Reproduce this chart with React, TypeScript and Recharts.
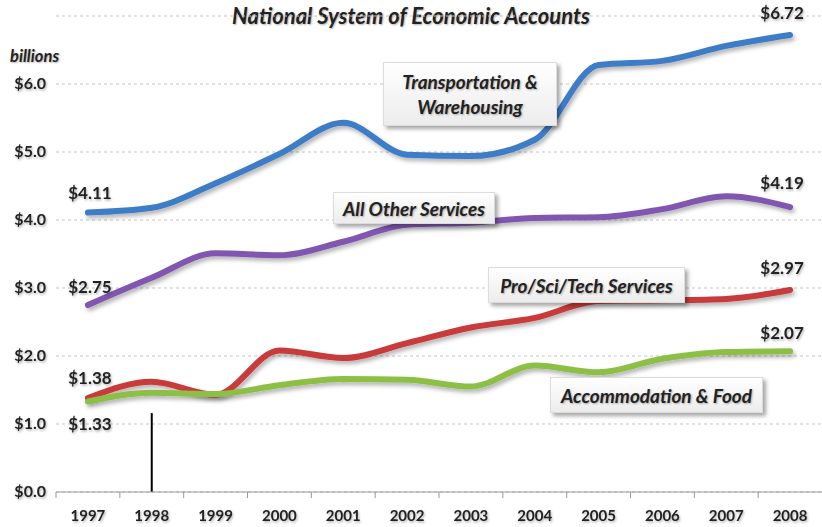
import { LineChart, Line, XAxis, YAxis, CartesianGrid, LabelList, ReferenceLine } from "recharts";

const years = ["1997", "1998", "1999", "2000", "2001", "2002", "2003", "2004", "2005", "2006", "2007", "2008"];
const transportation = [4.11, 4.18, 4.54, 4.97, 5.43, 4.96, 4.94, 5.18, 6.28, 6.34, 6.56, 6.72];
const otherServices = [2.75, 3.15, 3.51, 3.48, 3.68, 3.93, 3.96, 4.03, 4.04, 4.16, 4.35, 4.19];
const proSciTech = [1.38, 1.62, 1.43, 2.08, 1.97, 2.19, 2.42, 2.56, 2.81, 2.82, 2.84, 2.97];
const accommodation = [1.33, 1.46, 1.44, 1.57, 1.66, 1.65, 1.55, 1.86, 1.76, 1.96, 2.06, 2.07];
const yTicks = [0, 1, 2, 3, 4, 5, 6];

const data = years.map((year, i) => ({
  year,
  transportation: transportation[i],
  otherServices: otherServices[i],
  proSciTech: proSciTech[i],
  accommodation: accommodation[i],
}));

const font = "Lato, 'Open Sans', sans-serif";
const halfBand = 766 / 24;

function YearTick(props: any) {
  const { x, y, payload } = props;
  return (
    <g>
      <line x1={x - halfBand} y1={y} x2={x - halfBand} y2={y + 6} stroke="#999" />
      <text x={x} y={y + 29} textAnchor="middle" fontFamily={font} fontWeight={700} fontSize={15} fill="#222" filter="url(#txtShadow)">
        {payload.value}
      </text>
    </g>
  );
}

function MoneyTick(props: any) {
  const { x, y, payload } = props;
  return (
    <text x={x} y={y + 5} textAnchor="end" fontFamily={font} fontWeight={700} fontSize={16} fill="#222" filter="url(#txtShadow)">
      {"$" + Number(payload.value).toFixed(1)}
    </text>
  );
}

// start/end value labels, offsets per series
function endLabels(startDy: number, endDy: number) {
  return (props: any) => {
    const { x, y, value, index } = props;
    if (index !== 0 && index !== years.length - 1) return null;
    const first = index === 0;
    return (
      <text
        x={first ? x + 2 : x - 8}
        y={y + (first ? startDy : endDy)}
        textAnchor="middle"
        fontFamily={font}
        fontWeight={700}
        fontSize={17}
        fill="#222"
        filter="url(#txtShadow)"
      >
        {"$" + Number(value).toFixed(2)}
      </text>
    );
  };
}

const boxStyle: React.CSSProperties = {
  position: "absolute",
  display: "flex",
  alignItems: "center",
  justifyContent: "center",
  textAlign: "center",
  background: "linear-gradient(#ffffff, #ececec)",
  border: "1px solid #dcdcdc",
  boxShadow: "3px 3px 4px rgba(0,0,0,0.35)",
  fontFamily: font,
  fontWeight: 700,
  fontStyle: "italic",
  fontSize: 19,
  lineHeight: "25px",
  color: "#222",
  textShadow: "1px 1px 2px rgba(0,0,0,0.3)",
  boxSizing: "border-box",
};

export default function App() {
  return (
    <div style={{ position: "relative", width: 822, height: 527, background: "#fff", overflow: "hidden" }}>
      <style>{`body{margin:0}`}</style>
      <svg width={0} height={0} style={{ position: "absolute" }}>
        <defs>
          <filter id="lineShadow" x="-10%" y="-10%" width="120%" height="140%">
            <feDropShadow dx={2} dy={3} stdDeviation={2} floodColor="#000" floodOpacity={0.3} />
          </filter>
          <filter id="txtShadow" x="-10%" y="-20%" width="130%" height="150%">
            <feDropShadow dx={1} dy={1.5} stdDeviation={1} floodColor="#000" floodOpacity={0.3} />
          </filter>
        </defs>
      </svg>
      <div style={{ position: "absolute", left: 0, width: 822, top: 2, textAlign: "center", fontFamily: font, fontWeight: 700, fontStyle: "italic", fontSize: 22, color: "#222", textShadow: "1px 1px 2px rgba(0,0,0,0.3)" }}>
        National System of Economic Accounts
      </div>
      <div style={{ position: "absolute", left: 10, top: 46, fontFamily: font, fontWeight: 700, fontStyle: "italic", fontSize: 16.5, color: "#222", textShadow: "1px 1px 2px rgba(0,0,0,0.3)" }}>
        billions
      </div>
      <LineChart width={822} height={527} data={data} margin={{ top: 16, right: 0, bottom: 0, left: 0 }}>
        <CartesianGrid vertical={false} stroke="#c4c4c4" strokeDasharray="3 3" />
        <XAxis dataKey="year" height={35} stroke="#999" padding={{ left: halfBand, right: halfBand }} tickLine={false} tickSize={0} tickMargin={0} tick={<YearTick />} interval={0} />
        <YAxis domain={[0, 7]} ticks={yTicks} width={56} axisLine={false} tickLine={false} tickSize={0} tickMargin={10} tick={<MoneyTick />} />
        <ReferenceLine segment={[{ x: "1998", y: 0 }, { x: "1998", y: 1.16 }]} stroke="#000" strokeWidth={2} />
        <Line dataKey="transportation" type="monotone" stroke="#3d7cc6" strokeWidth={6} strokeLinecap="round" dot={false} filter="url(#lineShadow)" isAnimationActive={false}>
          <LabelList dataKey="transportation" content={endLabels(-14, -16)} />
        </Line>
        <Line dataKey="otherServices" type="monotone" stroke="#8056b0" strokeWidth={6} strokeLinecap="round" dot={false} filter="url(#lineShadow)" isAnimationActive={false}>
          <LabelList dataKey="otherServices" content={endLabels(-12, -18)} />
        </Line>
        <Line dataKey="proSciTech" type="monotone" stroke="#c93a3a" strokeWidth={6} strokeLinecap="round" dot={false} filter="url(#lineShadow)" isAnimationActive={false}>
          <LabelList dataKey="proSciTech" content={endLabels(-14, -16)} />
        </Line>
        <Line dataKey="accommodation" type="monotone" stroke="#8dbf46" strokeWidth={6} strokeLinecap="round" dot={false} filter="url(#lineShadow)" isAnimationActive={false}>
          <LabelList dataKey="accommodation" content={endLabels(28, -12)} />
        </Line>
      </LineChart>
      <div style={{ ...boxStyle, left: 383, top: 62, width: 174, height: 64 }}>
        Transportation &amp;<br />Warehousing
      </div>
      <div style={{ ...boxStyle, left: 333, top: 192, width: 162, height: 32 }}>All Other Services</div>
      <div style={{ ...boxStyle, left: 488, top: 267, width: 197, height: 36 }}>Pro/Sci/Tech Services</div>
      <div style={{ ...boxStyle, left: 550, top: 377, width: 213, height: 36 }}>Accommodation &amp; Food</div>
    </div>
  );
}
